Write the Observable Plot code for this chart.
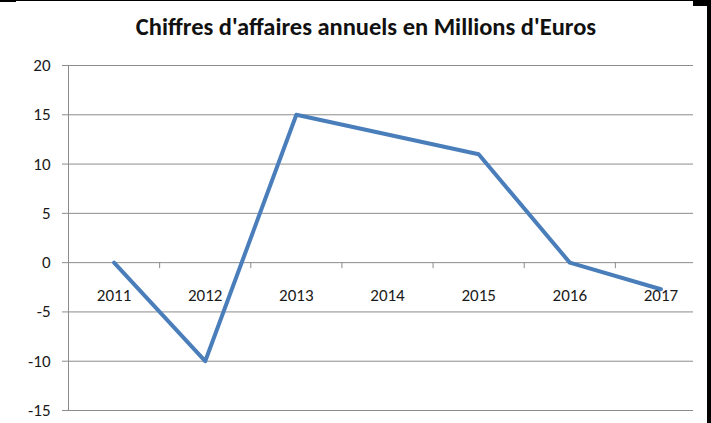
<!DOCTYPE html>
<html><head><meta charset="utf-8">
<script src="https://cdn.jsdelivr.net/npm/d3@7"></script>
<script src="https://cdn.jsdelivr.net/npm/@observablehq/plot@0.6"></script>
<style>
html,body{margin:0;padding:0;background:#fff;}
#wrap{position:relative;width:711px;height:423px;overflow:hidden;background:#fff;font-family:Carlito,Lato,sans-serif;}
#title{position:absolute;top:13px;left:366px;transform:translateX(-50%);white-space:nowrap;font-size:24.5px;font-weight:bold;line-height:28px;color:#111;}
#chart{position:absolute;top:48px;left:0;width:693px;height:375px;overflow:hidden;}
#chart svg{max-width:none !important;width:711px;height:375px;}
.blk{position:absolute;background:#000;}
</style></head>
<body>
<div id="wrap">
  <div class="blk" style="left:0;top:0;width:16px;height:2px"></div>
  <div class="blk" style="left:16px;top:0;width:695px;height:1px"></div>
  <div class="blk" style="left:693px;top:0;width:18px;height:6px"></div>
  <div class="blk" style="left:707px;top:0;width:4px;height:423px"></div>
  <div id="title">Chiffres d'affaires annuels en Millions d'Euros</div>
  <div id="chart"></div>
</div>
<script>
const years = [2011, 2012, 2013, 2014, 2015, 2016, 2017];
const revenue = [0, -10, 15, 13, 11, 0, -2.7];
const yTicks = [-15, -10, -5, 0, 5, 10, 15, 20];

const data = years.map((year, i) => ({year, value: revenue[i]}));
const boundaries = years.map(y => y + 0.5);
const gridColor = "#8c8c8c";
const textColor = "#1a1a1a";
const font = "Carlito, Lato, sans-serif";

const chart = Plot.plot({
  width: 711,
  height: 375,
  marginLeft: 68,
  marginRight: 5,
  marginTop: 17,
  marginBottom: 13,
  style: {fontFamily: font, fontSize: "17px", color: textColor, background: "transparent", overflow: "visible", maxWidth: "none"},
  x: {domain: [years[0] - 0.5, years[years.length - 1] + 0.5], axis: null},
  y: {domain: [yTicks[0], yTicks[yTicks.length - 1]], axis: null},
  marks: [
    Plot.ruleY(yTicks, {stroke: gridColor, strokeWidth: 1}),
    Plot.ruleX([years[0] - 0.5], {y1: yTicks[0], y2: yTicks[yTicks.length - 1], stroke: gridColor}),
    Plot.axisY({ticks: yTicks, tickSize: 6, tickPadding: 12, stroke: gridColor, fill: textColor, fontSize: 17, tickFormat: d => String(d), label: null}),
    Plot.ruleX(boundaries, {y1: 0, y2: 0, insetBottom: -6, stroke: gridColor}),
    Plot.line(data, {x: "year", y: "value", stroke: "#4A7EBB", strokeWidth: 4, strokeLinejoin: "round"}),
    Plot.text(years, {x: d => d, y: () => 0, dy: 33, text: d => String(d), fill: textColor, fontSize: 17})
  ]
});
document.getElementById("chart").appendChild(chart);
</script>
</body></html>
